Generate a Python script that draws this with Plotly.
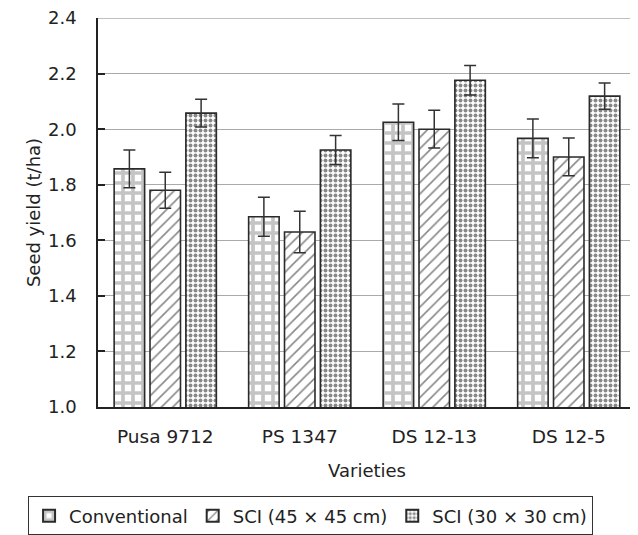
import plotly.graph_objects as go

varieties = ["Pusa 9712", "PS 1347", "DS 12-13", "DS 12-5"]
series_names = ["Conventional", "SCI (45 \u00d7 45 cm)", "SCI (30 \u00d7 30 cm)"]
conventional = [1.857, 1.685, 2.025, 1.967]
conventional_err = [0.068, 0.07, 0.066, 0.07]
sci45 = [1.78, 1.63, 2.0, 1.9]
sci45_err = [0.065, 0.075, 0.068, 0.068]
sci30 = [2.058, 1.925, 2.176, 2.119]
sci30_err = [0.05, 0.052, 0.053, 0.047]
y_ticks = [1.0, 1.2, 1.4, 1.6, 1.8, 2.0, 2.2, 2.4]
y_tick_labels = ["1.0", "1.2", "1.4", "1.6", "1.8", "2.0", "2.2", "2.4"]

values = [conventional, sci45, sci30]
errors = [conventional_err, sci45_err, sci30_err]
patterns = [
    dict(shape="+", fgcolor="#8a8a8a", bgcolor="white", size=10, solidity=0.6),
    dict(shape="/", fgcolor="#111111", bgcolor="white", size=8, solidity=0.2),
    dict(shape=".", fgcolor="#111111", bgcolor="white", size=5, solidity=0.5),
]

fig = go.Figure()
for name, v, e, p in zip(series_names, values, errors, patterns):
    fig.add_trace(go.Bar(
        name=name, x=varieties, y=v,
        marker=dict(color="white", pattern=p, line=dict(color="#2a2a2a", width=1.6)),
        error_y=dict(type="data", array=e, visible=True, color="#333333", thickness=1.5, width=6),
    ))

fig.add_hline(y=y_ticks[-1], line=dict(color="#aaaaaa", width=1.2), layer="below")

font = "DejaVu Sans, Arial, sans-serif"
fig.update_layout(
    width=630, height=527,
    margin=dict(l=90, r=2, t=10, b=128, autoexpand=False),
    paper_bgcolor="white", plot_bgcolor="white",
    barmode="group", bargap=0.2, bargroupgap=0.15,
    font=dict(family=font, size=18, color="#222222"),
    showlegend=True,
    legend=dict(orientation="h", x=-0.13, xanchor="left", y=-0.23, yanchor="top",
                bordercolor="#333333", borderwidth=1, font=dict(size=18),
                itemsizing="constant", traceorder="normal"),
    xaxis=dict(
        title=dict(text="Varieties", standoff=18, font=dict(size=18)),
        showline=True, linecolor="#222222", linewidth=1.5,
        ticks="", ticklabelstandoff=12, showgrid=False, automargin=False,
        tickfont=dict(size=18.5),
    ),
    yaxis=dict(
        title=dict(text="Seed yield (t/ha)", standoff=3, font=dict(size=18)),
        range=[0.9999, 2.4003], tickmode="array", tickvals=y_ticks, ticktext=y_tick_labels,
        ticklabeloverflow="allow",
        showline=True, linecolor="#222222", linewidth=1.5,
        ticks="inside", ticklen=7, tickcolor="#222222", tickwidth=1.5,
        ticklabelstandoff=16, automargin=False,
        showgrid=True, gridcolor="#aaaaaa", gridwidth=1.2,
        zeroline=False,
    ),
)

fig.write_html("out.html")
